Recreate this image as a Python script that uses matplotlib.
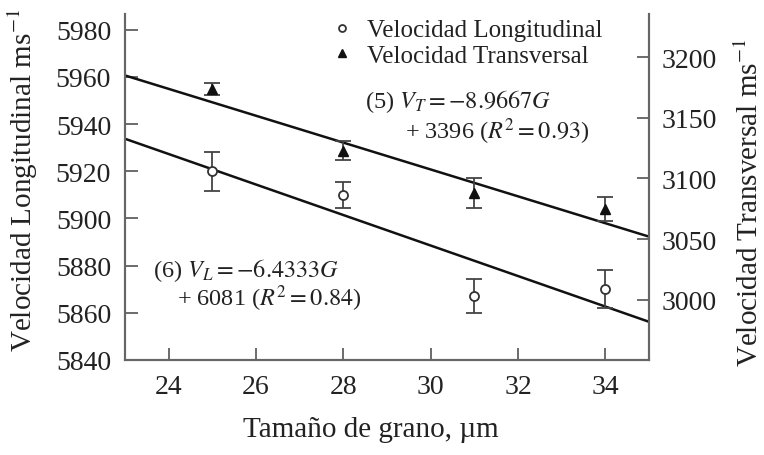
import matplotlib
matplotlib.use("Agg")
import matplotlib.pyplot as plt
from matplotlib.lines import Line2D

# ---- data ----
grain = [25, 28, 31, 34]
vel_long = [5920, 5910, 5867, 5870]
vel_long_err = [8.3, 5.6, 7.2, 8.0]
vel_trans = [3174, 3123, 3088, 3075]
vel_trans_err = [5, 7.5, 12, 10]
fit_x = [23, 35]
fit_long = [5933.8, 5856.2]
fit_trans = [3185, 3052]
xticks = [24, 26, 28, 30, 32, 34]
yticks_left = [5840, 5860, 5880, 5900, 5920, 5940, 5960, 5980]
yticks_right = [3000, 3050, 3100, 3150, 3200]

plt.rcParams['font.family'] = ['Liberation Serif', 'DejaVu Serif']
plt.rcParams['mathtext.fontset'] = 'stix'

W, H = 764, 456
fig = plt.figure(figsize=(W / 100, H / 100), dpi=100)
ax = fig.add_axes([125 / W, 95 / H, 524 / W, 346 / H])
ax2 = ax.twinx()

txt = '#222222'
spine_c = '#666666'

ax.plot(fit_x, fit_long, color='#111111', lw=1.8, zorder=2)
ax.errorbar(grain, vel_long, yerr=vel_long_err, fmt='o', ms=6.5, mfc='white',
            mec='#333333', mew=1.3, ecolor='#444444', elinewidth=1.3,
            capsize=5.5, capthick=1.3, zorder=3)

ax2.plot(fit_x, fit_trans, color='#111111', lw=1.8, zorder=2)
ax2.errorbar(grain, vel_trans, yerr=vel_trans_err, fmt='^', ms=7, mfc='#111111',
             mec='#111111', ecolor='#444444', elinewidth=1.3,
             capsize=5.5, capthick=1.3, zorder=3)

ax.set_xlim(23, 35)
ax.set_ylim(5840, 5986.7)
ax2.set_ylim(2950.2, 3235.7)
ax.set_xticks(xticks)
ax.set_yticks(yticks_left)
ax2.set_yticks(yticks_right)

for a in (ax, ax2):
    a.spines['top'].set_visible(False)
    for s in a.spines.values():
        s.set_color(spine_c)
        s.set_linewidth(1.5)
    a.tick_params(direction='in', length=9, width=1.1, color='#444444',
                  labelsize=20, labelcolor=txt)
ax.tick_params(axis='y', pad=10)
ax.tick_params(axis='x', pad=10)
ax2.tick_params(axis='y', pad=9)

fig.text(23 / W, 1 - 180 / H, 'Velocidad Longitudinal ms$^{-1}$', rotation=90,
         ha='center', va='center', fontsize=21, color=txt)
fig.text(750 / W, 1 - 203 / H, 'Velocidad Transversal ms$^{-1}$', rotation=90,
         ha='center', va='center', fontsize=21, color=txt)
fig.text(371 / W, 1 - 430 / H, 'Tamaño de grano, µm', ha='center', va='center',
         fontsize=21, color=txt)

fig.text(365 / W, 1 - 102 / H, '(5) $V_T = -8.9667G$', ha='left', va='center',
         fontsize=17.5, color=txt)
fig.text(405 / W, 1 - 132 / H, '+ 3396 ($R^2 = 0.93$)', ha='left', va='center',
         fontsize=17.5, color=txt)
fig.text(153 / W, 1 - 271 / H, '(6) $V_L = -6.4333G$', ha='left', va='center',
         fontsize=17.5, color=txt)
fig.text(177 / W, 1 - 299 / H, '+ 6081 ($R^2 = 0.84$)', ha='left', va='center',
         fontsize=17.5, color=txt)

handles = [
    Line2D([], [], marker='o', ls='none', ms=5, mfc='white', mec='#333333', mew=1.3),
    Line2D([], [], marker='^', ls='none', ms=6, mfc='#111111', mec='#111111'),
]
leg = fig.legend(handles, ['Velocidad Longitudinal', 'Velocidad Transversal'],
                 loc='upper left', bbox_to_anchor=(336 / W, 1 - 20 / H),
                 frameon=False, fontsize=18, handlelength=0.5,
                 handletextpad=0.74, labelspacing=0.12, borderpad=0,
                 borderaxespad=0)
for t in leg.get_texts():
    t.set_color(txt)

fig.savefig('out.png', dpi=100)
